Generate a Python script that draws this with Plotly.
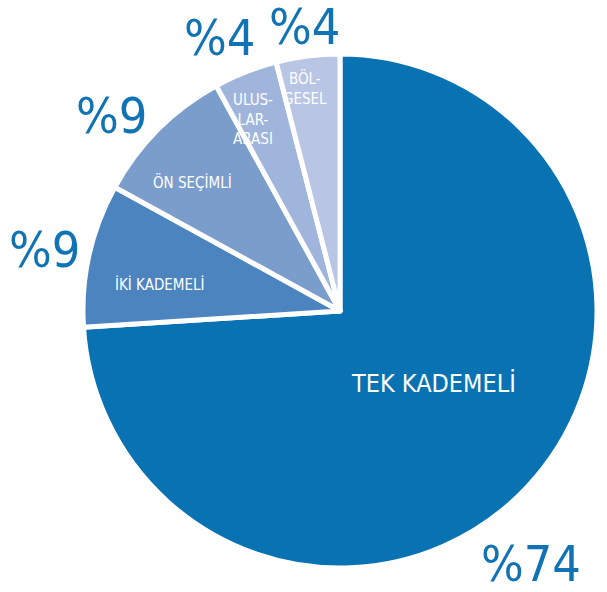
import math
import plotly.graph_objects as go

# ---- data ----
categories = ["TEK KADEMELİ", "İKİ KADEMELİ", "ÖN SEÇİMLİ", "ULUSLARARASI", "BÖLGESEL"]
inner_labels = ["TEK KADEMELİ", "İKİ KADEMELİ", "ÖN SEÇİMLİ", "ULUS-<br>LAR-<br>ARASI", "BÖL-<br>GESEL"]
values = [74, 9, 9, 4, 4]
pct_labels = ["%74", "%9", "%9", "%4", "%4"]

# ---- styles ----
colors = ["#0872b2", "#4c84bf", "#7b9dcb", "#a0b5dc", "#b8c5e4"]
pct_color = "#0f73b4"
W, H = 607, 592
CX, CY, R = 340, 311, 257
inner_r = [0.46, 0.71, 0.76, 0.82, 0.875]
inner_da = [-5.5, -4.1, -4.0, -2.9, -1.8]
inner_size = [25, 15, 15, 15, 15]
outer_r = [1.233, 1.176, 1.17, 1.16, 1.115]
outer_da = [9.8, -0.9, -4.6, -2.2, 0.0]
FONT = "DejaVu Sans Condensed, Roboto, sans-serif"

fig = go.Figure(go.Pie(
    labels=categories, values=values, sort=False, direction="clockwise", rotation=0,
    marker=dict(colors=colors, line=dict(color="white", width=5)),
    textinfo="none", hoverinfo="label+value",
    domain=dict(x=[(CX - R) / W, (CX + R) / W], y=[(H - CY - R) / H, (H - CY + R) / H]),
))

total = sum(values)
start = 0.0
for i, v in enumerate(values):
    mid = start + v / total * 360 / 2
    start += v / total * 360
    # inner label
    a = math.radians(mid + inner_da[i])
    px = CX + inner_r[i] * R * math.sin(a)
    py = CY - inner_r[i] * R * math.cos(a)
    fig.add_annotation(x=px / W, y=1 - py / H, xref="paper", yref="paper",
                       text=inner_labels[i], showarrow=False, xanchor="center", yanchor="middle",
                       font=dict(family=FONT, size=inner_size[i], color="white"))
    # outer percentage
    a = math.radians(mid + outer_da[i])
    px = CX + outer_r[i] * R * math.sin(a)
    py = CY - outer_r[i] * R * math.cos(a)
    fig.add_annotation(x=px / W, y=1 - py / H, xref="paper", yref="paper",
                       text=pct_labels[i], showarrow=False, xanchor="center", yanchor="middle",
                       font=dict(family=FONT, size=50, color=pct_color))

fig.update_layout(width=W, height=H, margin=dict(l=0, r=0, t=0, b=0),
                  showlegend=False, paper_bgcolor="white", plot_bgcolor="white")
fig.write_html("out.html", config={"displayModeBar": False},
               post_script="document.body.style.margin='0px';")
